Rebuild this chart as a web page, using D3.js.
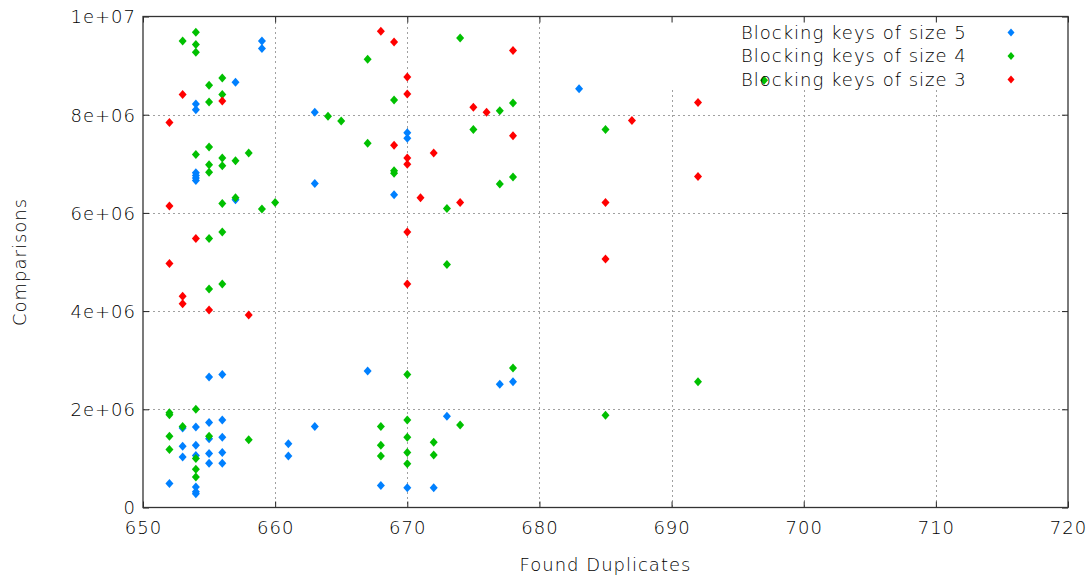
<!DOCTYPE html>
<html>
<head>
<meta charset="utf-8">
<script src="https://cdn.jsdelivr.net/npm/d3@7"></script>
<style>
  html, body { margin: 0; padding: 0; background: #fff; }
  svg text { font-family: "DejaVu Sans", sans-serif; font-weight: 300; fill: #000; letter-spacing: 1px; }
</style>
</head>
<body>
<svg id="chart" width="1089" height="580"></svg>
<script>
// ---- data (x = found duplicates, y = comparisons in millions) ----
const seriesNames = ["Blocking keys of size 5", "Blocking keys of size 4", "Blocking keys of size 3"];
const seriesColors = ["#0080ff", "#00c000", "#ff0000"];

const size5 = [
  [659, 9.50], [659, 9.35], [657, 8.66], [654, 8.22], [654, 8.10], [663, 8.05],
  [654, 6.82], [654, 6.76], [654, 6.71], [654, 6.66], [663, 6.60], [657, 6.27],
  [655, 2.66], [656, 2.71], [655, 1.73], [656, 1.78], [653, 1.62], [654, 1.64],
  [655, 1.40], [656, 1.43], [653, 1.25], [654, 1.27], [653, 1.03], [654, 1.06],
  [655, 1.10], [656, 1.12], [655, 0.90], [656, 0.90], [652, 0.49], [654, 0.42],
  [654, 0.32], [654, 0.28], [661, 1.30], [661, 1.05], [663, 1.65], [670, 7.63],
  [670, 7.52], [669, 6.37], [667, 2.78], [677, 2.51], [678, 2.56], [673, 1.86],
  [668, 0.45], [670, 0.40], [672, 0.40], [683, 8.53]
];
const size4 = [
  [653, 9.50], [654, 9.68], [654, 9.43], [654, 9.27], [656, 8.75], [655, 8.60],
  [656, 8.41], [655, 8.26], [664, 7.97], [665, 7.87], [655, 7.34], [654, 7.19],
  [656, 7.12], [658, 7.22], [657, 7.06], [655, 6.98], [656, 6.96], [655, 6.83],
  [656, 6.19], [657, 6.31], [659, 6.08], [660, 6.21], [655, 5.48], [656, 5.61],
  [655, 4.45], [656, 4.55], [652, 1.93], [652, 1.89], [654, 2.00], [653, 1.65],
  [652, 1.45], [655, 1.45], [658, 1.38], [652, 1.18], [654, 1.00], [654, 0.78],
  [654, 0.62], [674, 9.56], [667, 9.13], [669, 8.30], [677, 8.08], [678, 8.24],
  [675, 7.70], [667, 7.42], [669, 6.86], [669, 6.81], [678, 6.73], [673, 6.09],
  [677, 6.59], [673, 4.95], [670, 2.71], [678, 2.84], [674, 1.68], [668, 1.65],
  [670, 1.78], [670, 1.43], [672, 1.33], [668, 1.27], [670, 1.12], [672, 1.07],
  [668, 1.05], [670, 0.89], [685, 7.70], [692, 2.56], [685, 1.88], [697, 8.70]
];
const size3 = [
  [653, 8.41], [656, 8.28], [652, 7.84], [652, 6.14], [654, 5.48], [652, 4.97],
  [653, 4.30], [653, 4.15], [655, 4.02], [658, 3.92], [668, 9.70], [669, 9.48],
  [678, 9.31], [670, 8.77], [670, 8.42], [675, 8.15], [676, 8.05], [678, 7.57],
  [669, 7.38], [672, 7.22], [670, 7.12], [670, 6.99], [671, 6.31], [674, 6.21],
  [670, 5.61], [670, 4.55], [687, 7.88], [692, 8.25], [692, 6.74], [685, 6.21],
  [685, 5.06]
];
const xTicks = [650, 660, 670, 680, 690, 700, 710, 720];
const yTicks = [0, 2e6, 4e6, 6e6, 8e6, 1e7];
const yTickLabels = ["0", "2e+06", "4e+06", "6e+06", "8e+06", "1e+07"];
const xTitle = "Found Duplicates";
const yTitle = "Comparisons";

// ---- layout ----
const svg = d3.select("#chart");
const L = 143, R = 1068, T = 16.5, B = 507.5;
const x = d3.scaleLinear().domain([650, 720]).range([L, R]);
const y = d3.scaleLinear().domain([0, 1e7]).range([B, T]);

// grid
const grid = svg.append("g").attr("stroke", "#a0a0a0").attr("stroke-width", 1)
  .attr("stroke-dasharray", "2,3").attr("shape-rendering", "crispEdges");
grid.selectAll("line.gx").data(xTicks.slice(1, -1)).join("line")
  .attr("x1", d => Math.round(x(d)) + 0.5).attr("x2", d => Math.round(x(d)) + 0.5)
  .attr("y1", d => x(d) > 660 ? 90 : T).attr("y2", B);
grid.selectAll("line.gy").data(yTicks.slice(1, -1)).join("line")
  .attr("y1", d => Math.round(y(d)) + 0.5).attr("y2", d => Math.round(y(d)) + 0.5)
  .attr("x1", L).attr("x2", R);

// axes (ticks inward, mirrored)
const tk = 6;
const axB = svg.append("g").attr("transform", `translate(0,${B})`)
  .call(d3.axisBottom(x).tickValues(xTicks).tickSizeInner(-tk).tickSizeOuter(0).tickPadding(14).tickFormat(d3.format("d")));
const axT = svg.append("g").attr("transform", `translate(0,${T})`)
  .call(d3.axisTop(x).tickValues(xTicks).tickSizeInner(-tk).tickSizeOuter(0).tickFormat(""));
const axL = svg.append("g").attr("transform", `translate(${L},0)`)
  .call(d3.axisLeft(y).tickValues(yTicks).tickSizeInner(-tk).tickSizeOuter(0).tickPadding(7)
    .tickFormat((d, i) => yTickLabels[i]));
const axR = svg.append("g").attr("transform", `translate(${R},0)`)
  .call(d3.axisRight(y).tickValues(yTicks).tickSizeInner(-tk).tickSizeOuter(0).tickFormat(""));
[axB, axT, axL, axR].forEach(a => {
  a.select(".domain").remove();
  a.selectAll(".tick line").attr("stroke", "#222");
  a.selectAll("text").attr("font-size", 18).attr("font-family", null).attr("fill", "#000");
});
axL.selectAll("text").attr("dy", "0.36em");

// border
svg.append("rect").attr("x", L).attr("y", T).attr("width", R - L).attr("height", B - T)
  .attr("fill", "none").attr("stroke", "#333").attr("stroke-width", 1.3);

// titles
svg.append("text").attr("x", (L + R) / 2).attr("y", 571).attr("text-anchor", "middle")
  .attr("font-size", 18).text(xTitle);
svg.append("text").attr("transform", `translate(26,${(T + B) / 2}) rotate(-90)`)
  .attr("text-anchor", "middle").attr("font-size", 18).text(yTitle);

// points
const diamond = (hw, hh) => `M0,${-hh}L${hw},0L0,${hh}L${-hw},0Z`;
const allSeries = [size5, size4, size3];
allSeries.forEach((data, i) => {
  svg.append("g").selectAll("path").data(data).join("path")
    .attr("transform", d => `translate(${x(d[0])},${y(d[1] * 1e6)})`)
    .attr("d", diamond(4, 4.5)).attr("fill", seriesColors[i]);
});

// legend
const lg = svg.append("g");
seriesNames.forEach((name, i) => {
  lg.append("text").attr("x", 741).attr("y", 38.5 + i * 23.5).attr("font-size", 18).text(name);
  lg.append("path").attr("transform", `translate(1011,${32.5 + i * 23.5})`)
    .attr("d", diamond(3.5, 4)).attr("fill", seriesColors[i]);
});
</script>
</body>
</html>
